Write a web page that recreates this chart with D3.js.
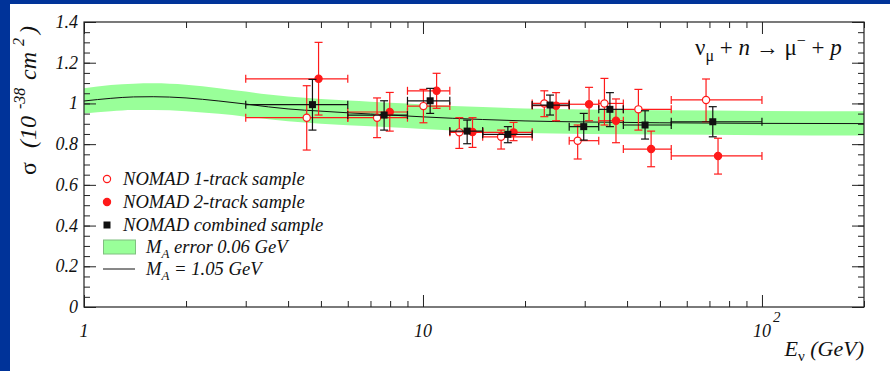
<!DOCTYPE html>
<html>
<head>
<meta charset="utf-8">
<script src="https://cdn.jsdelivr.net/npm/d3@7"></script>
<style>
  html, body { margin: 0; padding: 0; background: #003399; }
  svg { display: block; }
  .lab { font-family: "Liberation Serif", "DejaVu Serif", serif; font-style: italic; fill: #111; }
  .up { font-style: normal; }
</style>
</head>
<body>
<div id="chart"></div>
<script>
var W = 890, H = 371,
    margin = { top: 22, right: 24, bottom: 64, left: 84 };

// energy bins (GeV), shared by all samples
var binLow  = [3, 6, 9, 12, 15, 21, 27, 33, 39, 54];
var binHigh = [6, 9, 12, 15, 21, 27, 33, 39, 54, 100];

// NOMAD 1-track sample
var e1   = [4.54, 7.32, 10.03, 12.8, 17.0, 22.8, 28.6, 34.3, 43.2, 68.4];
var s1   = [0.930, 0.930, 0.987, 0.858, 0.836, 1.000, 0.817, 1.000, 0.971, 1.017];
var s1hi = [1.087, 1.027, 1.069, 0.930, 0.869, 1.062, 0.894, 1.123, 1.069, 1.120];
var s1lo = [0.771, 0.832, 0.905, 0.779, 0.776, 0.935, 0.727, 0.894, 0.869, 0.910];

// NOMAD 2-track sample
var e2   = [4.92, 7.98, 10.97, 14.0, 18.5, 24.7, 30.9, 37.1, 47.1, 74.2];
var s2   = [1.121, 0.958, 1.062, 0.860, 0.858, 0.989, 0.996, 0.915, 0.776, 0.742];
var s2hi = [1.300, 1.054, 1.148, 0.930, 0.907, 1.053, 1.079, 1.022, 0.864, 0.829];
var s2lo = [0.943, 0.864, 0.976, 0.784, 0.817, 0.915, 0.915, 0.807, 0.689, 0.653];

// NOMAD combined sample
var e3   = [4.72, 7.68, 10.5, 13.5, 17.8, 23.7, 29.8, 35.6, 45.2, 71.6];
var s3   = [0.994, 0.943, 1.013, 0.864, 0.848, 0.992, 0.886, 0.971, 0.894, 0.910];
var s3hi = [1.118, 1.013, 1.074, 0.918, 0.886, 1.041, 0.951, 1.053, 0.964, 0.984];
var s3lo = [0.869, 0.869, 0.951, 0.802, 0.807, 0.943, 0.820, 0.886, 0.825, 0.836];

// M_A = 1.05 GeV prediction and its error band
var curveE  = [1, 1.2, 1.4, 1.6, 2, 2.5, 3, 3.5, 4, 5, 6, 7, 8, 10, 15, 20, 30, 50, 100, 200];
var curveS  = [1.012, 1.025, 1.032, 1.033, 1.027, 1.012, 0.997, 0.983, 0.973, 0.962, 0.954, 0.948, 0.943, 0.934, 0.921, 0.914, 0.909, 0.905, 0.902, 0.901];
var bandHi  = [1.074, 1.090, 1.097, 1.099, 1.092, 1.075, 1.058, 1.044, 1.034, 1.022, 1.014, 1.008, 1.003, 0.995, 0.982, 0.975, 0.970, 0.966, 0.963, 0.962];
var bandLo  = [0.951, 0.962, 0.968, 0.968, 0.962, 0.949, 0.935, 0.922, 0.912, 0.900, 0.893, 0.888, 0.883, 0.875, 0.861, 0.855, 0.850, 0.847, 0.844, 0.843];

// ticks
var xMajor = [1, 10, 100];
var xMinor = [2, 3, 4, 5, 6, 7, 8, 9, 20, 30, 40, 50, 60, 70, 80, 90, 200];
var yMajor = [0, 0.2, 0.4, 0.6, 0.8, 1, 1.2, 1.4];
var yMajorLabels = ["0", "0.2", "0.4", "0.6", "0.8", "1", "1.2", "1.4"];
var yMinor = d3.range(0, 1.401, 0.05);

var x = d3.scaleLog().domain([1, 200]).range([margin.left, W - margin.right - 2]);
var y = d3.scaleLinear().domain([0, 1.4]).range([H - margin.bottom, margin.top]);

var svg = d3.select("#chart").append("svg")
    .attr("width", W)
    .attr("height", H);

svg.append("rect")
    .attr("x", 10).attr("y", 4)
    .attr("width", W - 10).attr("height", H - 4)
    .attr("fill", "#fff");

svg.append("clipPath").attr("id", "clip")
  .append("rect")
    .attr("x", x(1)).attr("y", y(1.4))
    .attr("width", x(200) - x(1)).attr("height", y(0) - y(1.4));

var plot = svg.append("g").attr("clip-path", "url(#clip)");

// band
var band = curveE.map(function (e, i) { return { e: e, hi: bandHi[i], lo: bandLo[i], s: curveS[i] }; });
plot.append("path")
    .datum(band)
    .attr("fill", "#99ff99")
    .attr("d", d3.area()
        .curve(d3.curveMonotoneX)
        .x(function (d) { return x(d.e); })
        .y0(function (d) { return y(d.lo); })
        .y1(function (d) { return y(d.hi); }));

plot.append("path")
    .datum(band)
    .attr("fill", "none")
    .attr("stroke", "#111")
    .attr("stroke-width", 1)
    .attr("d", d3.line()
        .curve(d3.curveMonotoneX)
        .x(function (d) { return x(d.e); })
        .y(function (d) { return y(d.s); }));

// axes (ticks inside frame)
function addAxis(axis, tr) {
    var g = svg.append("g").attr("transform", tr).call(axis);
    g.select(".domain").remove();
    g.selectAll("line").attr("stroke", "#222").attr("stroke-width", 1);
    g.selectAll("text").remove();
}
var yb = y(0), yt = y(1.4), xl = x(1), xr = x(200);
addAxis(d3.axisBottom(x).tickValues(xMajor).tickSize(-12).tickSizeOuter(0), "translate(0," + yb + ")");
addAxis(d3.axisBottom(x).tickValues(xMinor).tickSize(-6).tickSizeOuter(0), "translate(0," + yb + ")");
addAxis(d3.axisTop(x).tickValues(xMajor).tickSize(-12).tickSizeOuter(0), "translate(0," + yt + ")");
addAxis(d3.axisTop(x).tickValues(xMinor).tickSize(-6).tickSizeOuter(0), "translate(0," + yt + ")");
addAxis(d3.axisLeft(y).tickValues(yMajor).tickSize(-12).tickSizeOuter(0), "translate(" + xl + ",0)");
addAxis(d3.axisLeft(y).tickValues(yMinor).tickSize(-6).tickSizeOuter(0), "translate(" + xl + ",0)");
addAxis(d3.axisRight(y).tickValues(yMajor).tickSize(-12).tickSizeOuter(0), "translate(" + xr + ",0)");
addAxis(d3.axisRight(y).tickValues(yMinor).tickSize(-6).tickSizeOuter(0), "translate(" + xr + ",0)");

svg.append("rect")
    .attr("x", xl).attr("y", yt)
    .attr("width", xr - xl).attr("height", yb - yt)
    .attr("fill", "none").attr("stroke", "#222").attr("stroke-width", 1.2);

// tick labels
svg.selectAll(".ylab").data(yMajor).enter().append("text")
    .attr("class", "lab")
    .attr("x", xl - 6)
    .attr("y", function (d) { return y(d) + 6; })
    .attr("text-anchor", "end")
    .attr("font-size", 18)
    .text(function (d, i) { return yMajorLabels[i]; });

svg.append("text").attr("class", "lab").attr("font-size", 18)
    .attr("x", x(1)).attr("y", 337).attr("text-anchor", "middle").text("1");
svg.append("text").attr("class", "lab").attr("font-size", 18)
    .attr("x", x(10)).attr("y", 337).attr("text-anchor", "middle").text("10");
var t100 = svg.append("text").attr("class", "lab").attr("font-size", 18)
    .attr("x", x(100) - 9).attr("y", 337);
t100.append("tspan").text("10");
t100.append("tspan").attr("dx", 2).attr("dy", -15).attr("font-size", 15).text("2");

// axis titles
var xt = svg.append("text").attr("class", "lab").attr("font-size", 22)
    .attr("x", xr).attr("y", 356).attr("text-anchor", "end");
xt.append("tspan").text("E");
xt.append("tspan").attr("class", "up").attr("dy", 5).attr("font-size", 15).text("ν");
xt.append("tspan").attr("dy", -5).text(" (GeV)");

// y title, pieces placed along the rotated baseline
var ytg = svg.append("g").attr("transform", "translate(36,175) rotate(-90)");
var yPieces = [
    { t: "σ",   x: 0,   dy: 0,   size: 24, cls: "lab up" },
    { t: "(10", x: 27,  dy: 0,   size: 24, cls: "lab" },
    { t: "-38", x: 66,  dy: -11, size: 16, cls: "lab" },
    { t: "cm",  x: 95,  dy: 0,   size: 24, cls: "lab" },
    { t: "2",   x: 129, dy: -12, size: 16, cls: "lab" },
    { t: ")",   x: 141, dy: 0,   size: 24, cls: "lab" }
];
ytg.selectAll("text").data(yPieces).enter().append("text")
    .attr("class", function (d) { return d.cls; })
    .attr("x", function (d) { return d.x; })
    .attr("y", function (d) { return d.dy; })
    .attr("font-size", function (d) { return d.size; })
    .text(function (d) { return d.t; });

// reaction
var rx = svg.append("text").attr("class", "lab up").attr("font-size", 23)
    .attr("x", 695).attr("y", 55);
rx.append("tspan").text("ν");
rx.append("tspan").attr("dy", 6).attr("font-size", 16).text("μ");
rx.append("tspan").attr("dy", -6).text(" + ");
rx.append("tspan").style("font-style", "italic").text("n");
rx.append("tspan").text(" → μ");
rx.append("tspan").attr("dy", -9).attr("font-size", 16).text("−");
rx.append("tspan").attr("dy", 9).text(" + ");
rx.append("tspan").style("font-style", "italic").text("p");

// data points with error bars
function drawSample(E, S, hi, lo, color, kind) {
    var d = E.map(function (e, i) {
        return { e: e, s: S[i], hi: hi[i], lo: lo[i], a: binLow[i], b: binHigh[i] };
    });
    var g = svg.append("g").attr("stroke", color).attr("stroke-width", 1.2).attr("fill", "none");
    var cap = 4;
    d.forEach(function (p) {
        var cx = x(p.e), cy = y(p.s);
        g.append("line").attr("x1", x(p.a)).attr("x2", x(p.b)).attr("y1", cy).attr("y2", cy);
        g.append("line").attr("x1", x(p.a)).attr("x2", x(p.a)).attr("y1", cy - cap).attr("y2", cy + cap);
        g.append("line").attr("x1", x(p.b)).attr("x2", x(p.b)).attr("y1", cy - cap).attr("y2", cy + cap);
        g.append("line").attr("x1", cx).attr("x2", cx).attr("y1", y(p.hi)).attr("y2", y(p.lo));
        g.append("line").attr("x1", cx - cap).attr("x2", cx + cap).attr("y1", y(p.hi)).attr("y2", y(p.hi));
        g.append("line").attr("x1", cx - cap).attr("x2", cx + cap).attr("y1", y(p.lo)).attr("y2", y(p.lo));
    });
    drawMarkers(g, d.map(function (p) { return [x(p.e), y(p.s)]; }), color, kind);
}
function drawMarkers(g, pts, color, kind) {
    pts.forEach(function (p) {
        if (kind === "square") {
            g.append("rect").attr("x", p[0] - 3.5).attr("y", p[1] - 3.5)
                .attr("width", 7).attr("height", 7)
                .attr("fill", color).attr("stroke", "none");
        } else {
            g.append("circle").attr("cx", p[0]).attr("cy", p[1]).attr("r", 3.6)
                .attr("fill", kind === "open" ? "#fff" : color)
                .attr("stroke", color).attr("stroke-width", 1.2);
        }
    });
}
drawSample(e1, s1, s1hi, s1lo, "#ff1a1a", "open");
drawSample(e2, s2, s2hi, s2lo, "#ff1a1a", "filled");
drawSample(e3, s3, s3hi, s3lo, "#111", "square");

// legend
var legendNames = ["NOMAD 1-track sample", "NOMAD 2-track sample", "NOMAD combined sample"];
var legendKinds = ["open", "filled", "square"];
var legendColors = ["#ff1a1a", "#ff1a1a", "#111"];
var legY = [179, 202, 225];
var lg = svg.append("g");
legendNames.forEach(function (n, i) {
    drawMarkers(lg.append("g"), [[107, legY[i]]], legendColors[i], legendKinds[i]);
    lg.append("text").attr("class", "lab").attr("font-size", 18.6)
        .attr("x", 123).attr("y", legY[i] + 6).text(n);
});
lg.append("rect").attr("x", 103.5).attr("y", 240).attr("width", 32).attr("height", 14)
    .attr("fill", "#99ff99").attr("stroke", "#80c080").attr("stroke-width", 1);
lg.append("line").attr("x1", 103).attr("x2", 135).attr("y1", 269).attr("y2", 269)
    .attr("stroke", "#111").attr("stroke-width", 1);
var m1 = lg.append("text").attr("class", "lab").attr("font-size", 18.6).attr("x", 146).attr("y", 253);
m1.append("tspan").text("M");
m1.append("tspan").attr("dy", 5).attr("font-size", 13).text("A");
m1.append("tspan").attr("dy", -5).text(" error 0.06 GeV");
var m2 = lg.append("text").attr("class", "lab").attr("font-size", 18.6).attr("x", 146).attr("y", 275);
m2.append("tspan").text("M");
m2.append("tspan").attr("dy", 5).attr("font-size", 13).text("A");
m2.append("tspan").attr("dy", -5).text(" = 1.05 GeV");
</script>
</body>
</html>
